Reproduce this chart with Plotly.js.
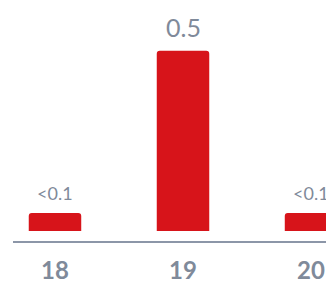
<!DOCTYPE html>
<html>
<head>
<meta charset="utf-8">
<script src="https://cdn.plot.ly/plotly-3.0.1.min.js"></script>
<style>html,body{margin:0;padding:0;background:#fff;}#chart{width:326px;height:284px;}</style>
</head>
<body>
<div id="chart"></div>
<script>
// Data
const categories = [18, 19, 20];
const tickLabels = ["18", "19", "20"];
const values = [0.05, 0.5, 0.05];
const valueLabels = ["<0.1", "0.5", "<0.1"];
const labelSizes = [18, 25, 18];

const barColor = "#d7141a";
const textColor = "#7f8a9a";
const axisColor = "#8c96a8";

const trace = {
  type: "bar",
  x: categories,
  y: values,
  width: 0.41,
  marker: { color: barColor, cornerradius: 3 },
  hoverinfo: "skip"
};

const annotations = categories.map((c, i) => ({
  x: c,
  y: values[i],
  xref: "x",
  yref: "y",
  text: valueLabels[i],
  showarrow: false,
  yanchor: "bottom",
  yshift: 7,
  font: { family: "Lato, 'Open Sans', sans-serif", size: labelSizes[i], color: textColor }
}));

const layout = {
  width: 326,
  height: 284,
  margin: { l: 13, r: 0, t: 0, b: 43 },
  paper_bgcolor: "#ffffff",
  plot_bgcolor: "#ffffff",
  showlegend: false,
  xaxis: {
    type: "linear",
    range: [17.672, 20.117],
    tickvals: categories,
    ticktext: tickLabels,
    showgrid: false,
    zeroline: false,
    showline: true,
    linecolor: axisColor,
    linewidth: 2,
    ticks: "",
    ticklabelstandoff: 7,
    tickfont: { family: "Lato, 'Open Sans', sans-serif", size: 24, color: textColor, weight: "bold" }
  },
  yaxis: {
    range: [-0.0277, 0.6406],
    visible: false,
    showgrid: false,
    zeroline: false
  },
  annotations: annotations
};

Plotly.newPlot("chart", [trace], layout, { displayModeBar: false, staticPlot: true });
</script>
</body>
</html>
